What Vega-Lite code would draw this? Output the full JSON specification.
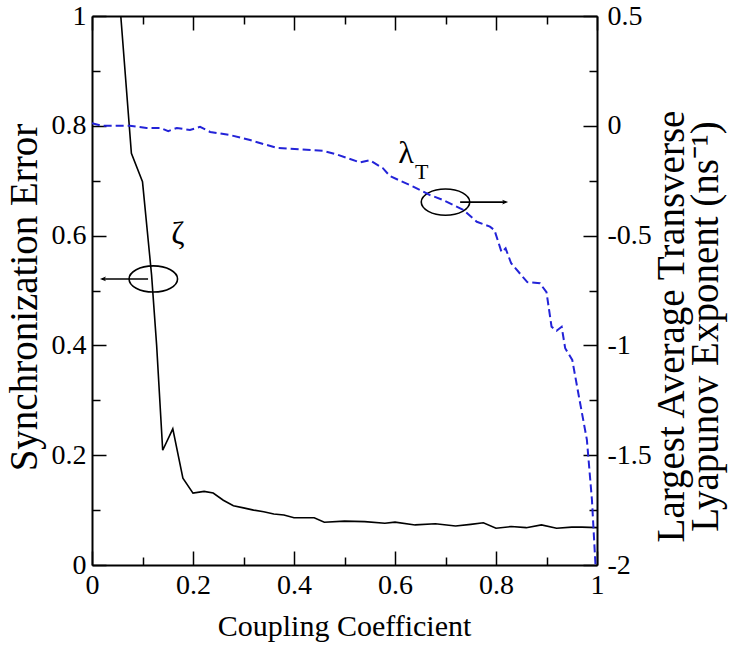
{
  "$schema": "https://vega.github.io/schema/vega-lite/v6.json",
  "width": 505,
  "height": 549,
  "autosize": {"type": "none"},
  "padding": {"left": 92, "top": 16, "right": 138, "bottom": 86},
  "background": "white",
  "config": {
    "view": {"stroke": null},
    "font": "Liberation Serif",
    "axis": {
      "domainColor": "black",
      "domainWidth": 2,
      "tickColor": "black",
      "tickWidth": 1.5,
      "labelColor": "black",
      "titleColor": "black",
      "labelFont": "Liberation Serif",
      "titleFont": "Liberation Serif",
      "labelFontSize": 28,
      "titleFontWeight": "normal",
      "grid": false,
      "labelFlush": false,
      "labelOverlap": false,
      "labelBound": false
    }
  },
  "layer": [
    {
      "encoding": {
        "x": {
          "field": "coupling",
          "type": "quantitative",
          "scale": {"domain": [0, 1], "nice": false, "zero": false},
          "axis": {
            "orient": "bottom",
            "values": [0, 0.1, 0.2, 0.3, 0.4, 0.5, 0.6, 0.7, 0.8, 0.9, 1],
            "labelExpr": "round(datum.value*10)%2==0 ? ''+datum.value : ''",
            "labelFont": "Liberation Serif",
            "labelFontSize": 28,
            "tickSize": {"condition": {"test": "round(datum.value*10)%2==0", "value": -14}, "value": -8},
            "labelPadding": 20,
            "labelBaseline": "top",
            "title": "Coupling Coefficient",
            "titleFont": "Liberation Serif",
            "titleFontSize": 30,
            "titleX": 252,
            "titleY": 70,
            "titleAlign": "center",
            "titleBaseline": "alphabetic"
          }
        },
        "y": {
          "field": "zeta",
          "type": "quantitative",
          "scale": {"domain": [0, 1], "nice": false, "zero": false},
          "axis": {
            "orient": "left",
            "values": [0, 0.1, 0.2, 0.3, 0.4, 0.5, 0.6, 0.7, 0.8, 0.9, 1],
            "labelExpr": "round(datum.value*10)%2==0 ? ''+datum.value : ''",
            "labelFont": "Liberation Serif",
            "labelFontSize": 28,
            "tickSize": {"condition": {"test": "round(datum.value*10)%2==0", "value": -14}, "value": -8},
            "labelPadding": 20,
            "title": "Synchronization Error",
            "titleFont": "Liberation Serif",
            "titleFontSize": 39,
            "titleAngle": -90,
            "titleX": -68,
            "titleY": 281,
            "titleAlign": "center",
            "titleBaseline": "middle"
          }
        }
      },
      "layer": [
        {
          "data": {
            "values": [
              {"coupling": 0.057, "zeta": 1.0},
              {"coupling": 0.078, "zeta": 0.75},
              {"coupling": 0.1, "zeta": 0.698},
              {"coupling": 0.118, "zeta": 0.528},
              {"coupling": 0.128, "zeta": 0.4},
              {"coupling": 0.14, "zeta": 0.209},
              {"coupling": 0.16, "zeta": 0.248},
              {"coupling": 0.18, "zeta": 0.158},
              {"coupling": 0.2, "zeta": 0.131},
              {"coupling": 0.222, "zeta": 0.134},
              {"coupling": 0.24, "zeta": 0.131},
              {"coupling": 0.26, "zeta": 0.118},
              {"coupling": 0.28, "zeta": 0.108},
              {"coupling": 0.3, "zeta": 0.104},
              {"coupling": 0.32, "zeta": 0.1},
              {"coupling": 0.34, "zeta": 0.097},
              {"coupling": 0.36, "zeta": 0.093},
              {"coupling": 0.38, "zeta": 0.091},
              {"coupling": 0.4, "zeta": 0.086},
              {"coupling": 0.42, "zeta": 0.086},
              {"coupling": 0.44, "zeta": 0.086},
              {"coupling": 0.46, "zeta": 0.078},
              {"coupling": 0.5, "zeta": 0.08},
              {"coupling": 0.54, "zeta": 0.079},
              {"coupling": 0.58, "zeta": 0.076},
              {"coupling": 0.6, "zeta": 0.078},
              {"coupling": 0.64, "zeta": 0.073},
              {"coupling": 0.68, "zeta": 0.075},
              {"coupling": 0.72, "zeta": 0.071},
              {"coupling": 0.75, "zeta": 0.074},
              {"coupling": 0.775, "zeta": 0.077},
              {"coupling": 0.8, "zeta": 0.067},
              {"coupling": 0.83, "zeta": 0.07},
              {"coupling": 0.86, "zeta": 0.068},
              {"coupling": 0.89, "zeta": 0.073},
              {"coupling": 0.92, "zeta": 0.067},
              {"coupling": 0.95, "zeta": 0.069},
              {"coupling": 0.97, "zeta": 0.069},
              {"coupling": 1.0, "zeta": 0.068}
            ]
          },
          "mark": {"type": "line", "color": "black", "strokeWidth": 1.6, "clip": true}
        },
        {
          "data": {"values": [{"coupling": 0.1214, "zeta": 0.521}, {"coupling": 0.7, "zeta": 0.661}]},
          "mark": {
            "type": "point",
            "shape": "M -1 0 A 1 0.54 0 1 0 1 0 A 1 0.54 0 1 0 -1 0 Z",
            "size": 2350,
            "filled": false,
            "stroke": "black",
            "strokeWidth": 1.6,
            "opacity": 1
          }
        },
        {
          "data": {"values": [{"coupling": 0.111, "coupling2": 0.02, "zeta": 0.521}, {"coupling": 0.729, "coupling2": 0.82, "zeta": 0.661}]},
          "mark": {"type": "rule", "color": "black", "strokeWidth": 1.6},
          "encoding": {
            "x2": {"field": "coupling2"}
          }
        },
        {
          "data": {"values": [{"coupling": 0.0158, "zeta": 0.521, "dir": "left"}, {"coupling": 0.824, "zeta": 0.661, "dir": "right"}]},
          "mark": {"type": "point", "filled": true, "color": "black", "size": 144, "opacity": 1},
          "encoding": {
            "shape": {
              "field": "dir",
              "type": "nominal",
              "legend": null,
              "scale": {
                "domain": ["left", "right"],
                "range": ["M 0 0 L 1 -0.4 L 0.75 0 L 1 0.4 Z", "M 0 0 L -1 -0.4 L -0.75 0 L -1 0.4 Z"]
              }
            }
          }
        },
        {
          "data": {"values": [{"coupling": 0.17, "zeta": 0.603, "label": "ζ"}, {"coupling": 0.622, "zeta": 0.75, "label": "λ"}]},
          "mark": {"type": "text", "font": "Liberation Serif", "fontSize": 32, "color": "black", "baseline": "middle", "align": "center"},
          "encoding": {
            "text": {"field": "label"}
          }
        },
        {
          "data": {"values": [{"coupling": 0.653, "zeta": 0.716, "label": "T"}]},
          "mark": {"type": "text", "font": "Liberation Serif", "fontSize": 22, "color": "black", "baseline": "middle", "align": "center"},
          "encoding": {
            "text": {"field": "label"}
          }
        }
      ]
    },
    {
      "data": {
        "values": [
          {"coupling": 0.0, "lambda": 0.012},
          {"coupling": 0.02, "lambda": 0.0},
          {"coupling": 0.075, "lambda": 0.0},
          {"coupling": 0.108, "lambda": -0.01},
          {"coupling": 0.135, "lambda": -0.01},
          {"coupling": 0.151, "lambda": -0.024},
          {"coupling": 0.168, "lambda": -0.01},
          {"coupling": 0.194, "lambda": -0.019},
          {"coupling": 0.214, "lambda": -0.005},
          {"coupling": 0.234, "lambda": -0.028},
          {"coupling": 0.273, "lambda": -0.042},
          {"coupling": 0.313, "lambda": -0.065},
          {"coupling": 0.339, "lambda": -0.083},
          {"coupling": 0.366, "lambda": -0.1},
          {"coupling": 0.412, "lambda": -0.107},
          {"coupling": 0.458, "lambda": -0.114},
          {"coupling": 0.484, "lambda": -0.13},
          {"coupling": 0.531, "lambda": -0.167},
          {"coupling": 0.55, "lambda": -0.157},
          {"coupling": 0.576, "lambda": -0.193},
          {"coupling": 0.59, "lambda": -0.229},
          {"coupling": 0.636, "lambda": -0.277},
          {"coupling": 0.669, "lambda": -0.315},
          {"coupling": 0.695, "lambda": -0.338},
          {"coupling": 0.735, "lambda": -0.383},
          {"coupling": 0.762, "lambda": -0.437},
          {"coupling": 0.788, "lambda": -0.459},
          {"coupling": 0.797, "lambda": -0.475},
          {"coupling": 0.811, "lambda": -0.575},
          {"coupling": 0.819, "lambda": -0.558},
          {"coupling": 0.83, "lambda": -0.626},
          {"coupling": 0.862, "lambda": -0.712},
          {"coupling": 0.887, "lambda": -0.717},
          {"coupling": 0.9, "lambda": -0.758},
          {"coupling": 0.91, "lambda": -0.915},
          {"coupling": 0.92, "lambda": -0.933},
          {"coupling": 0.93, "lambda": -0.915},
          {"coupling": 0.937, "lambda": -1.013},
          {"coupling": 0.951, "lambda": -1.066},
          {"coupling": 0.963, "lambda": -1.218},
          {"coupling": 0.98, "lambda": -1.43},
          {"coupling": 0.99, "lambda": -1.704},
          {"coupling": 0.997, "lambda": -2.0}
        ]
      },
      "mark": {"type": "line", "color": "#2323d8", "strokeWidth": 2, "strokeDash": [8, 4], "clip": true},
      "encoding": {
        "x": {
          "field": "coupling",
          "type": "quantitative",
          "scale": {"domain": [0, 1], "nice": false, "zero": false},
          "axis": {
            "orient": "top",
            "values": [0, 0.1, 0.2, 0.3, 0.4, 0.5, 0.6, 0.7, 0.8, 0.9, 1],
            "labels": false,
            "title": null,
            "tickSize": {"condition": {"test": "round(datum.value*10)%2==0", "value": -14}, "value": -8}
          }
        },
        "y": {
          "field": "lambda",
          "type": "quantitative",
          "scale": {"domain": [-2, 0.5], "nice": false, "zero": false},
          "axis": {
            "orient": "right",
            "values": [-2, -1.75, -1.5, -1.25, -1, -0.75, -0.5, -0.25, 0, 0.25, 0.5],
            "labelExpr": "round(datum.value*4)%2==0 ? ''+datum.value : ''",
            "labelFont": "Liberation Serif",
            "labelFontSize": 28,
            "tickSize": {"condition": {"test": "round(datum.value*4)%2==0", "value": -14}, "value": -8},
            "labelPadding": 24,
            "title": ["Largest Average Transverse", "Lyapunov Exponent (ns⁻¹)"],
            "titleFont": "Liberation Serif",
            "titleFontSize": 39,
            "titleLineHeight": 34,
            "titleAngle": -90,
            "titleX": 74,
            "titleY": 310,
            "titleAlign": "center",
            "titleBaseline": "middle"
          }
        }
      }
    }
  ],
  "resolve": {
    "scale": {"y": "independent"},
    "axis": {"x": "independent", "y": "independent"}
  }
}
